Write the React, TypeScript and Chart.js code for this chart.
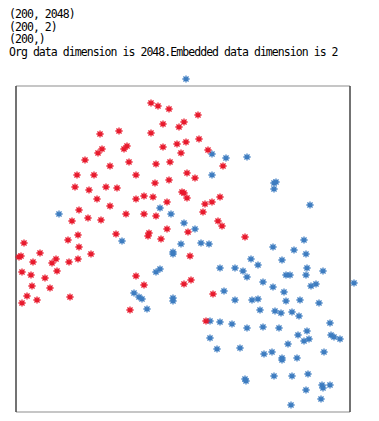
import React, { useEffect, useRef } from "react";
import { Chart, registerables } from "chart.js";

Chart.register(...registerables);

const headerLines: string[] = [
  "(200, 2048)",
  "(200, 2)",
  "(200,)",
  "Org data dimension is 2048.Embedded data dimension is 2",
];

const classARedX: number[] = [
  135, 142, 153, 147, 168, 163, 84, 103, 135, 86, 82, 111, 108, 147, 161, 170, 165, 69, 113, 94,
  140, 154, 61, 78, 120, 171, 139, 153, 59, 73, 90, 101, 166, 168, 182, 183, 192, 207, 179, 81,
  94, 120, 128, 137, 63, 110, 72, 56, 85, 128, 140, 151, 151, 172, 100, 62, 133, 132, 145, 52,
  8, 63, 24, 5, 3, 17, 36, 40, 53, 62, 75, 6, 15, 41, 29, 120, 16, 34, 128, 168,
  11, 21, 54, 6, 114, 171, 189, 196, 204, 187, 202, 206, 229, 174, 175, 197, 190,
];
const classARedY: number[] = [
  309, 306, 303, 288, 290, 285, 278, 281, 279, 263, 259, 266, 263, 265, 268, 270, 259, 252, 250, 246,
  248, 250, 237, 237, 237, 239, 229, 232, 225, 222, 225, 224, 220, 219, 297, 273, 262, 246, 234, 213,
  206, 213, 216, 215, 202, 198, 194, 191, 192, 198, 196, 210, 183, 180, 178, 177, 179, 176, 173, 172,
  169, 165, 159, 156, 155, 150, 149, 153, 150, 153, 158, 140, 137, 141, 134, 136, 126, 124, 127, 128,
  116, 112, 115, 109, 102, 214, 208, 210, 215, 200, 191, 186, 175, 156, 132, 118, 91,
];

const classBBlueX: number[] = [
  170, 196, 210, 231, 196, 258, 260, 258, 43, 144, 155, 168, 106, 165, 157, 157, 140, 144, 118, 123,
  126, 157, 157, 131, 294, 179, 185, 193, 257, 278, 288, 290, 235, 242, 266, 204, 219, 227, 231, 291,
  307, 290, 270, 274, 247, 257, 268, 295, 300, 338, 208, 219, 236, 242, 270, 284, 303, 244, 259, 265,
  276, 283, 194, 204, 216, 231, 247, 263, 314, 282, 291, 288, 293, 315, 318, 324, 194, 272, 201, 224,
  248, 256, 266, 266, 281, 308, 229, 230, 258, 276, 292, 306, 307, 314, 290, 305, 275,
];
const classBBlueY: number[] = [
  333, 258, 254, 255, 237, 229, 230, 223, 198, 204, 198, 189, 171, 168, 160, 158, 140, 143, 119, 115,
  113, 114, 111, 103, 207, 183, 169, 168, 165, 162, 172, 158, 153, 147, 152, 144, 144, 141, 135, 144,
  141, 137, 137, 137, 130, 125, 120, 126, 128, 129, 121, 112, 112, 113, 111, 112, 109, 102, 101, 99,
  100, 96, 91, 90, 88, 84, 85, 84, 89, 77, 81, 71, 73, 77, 75, 73, 74, 68, 63, 64,
  58, 60, 54, 52, 54, 60, 33, 31, 36, 36, 38, 27, 24, 27, 22, 13, 7,
];

// visible frame (axes box) in data units, and the wider drawing range around it
const frameX: number[] = [0, 334];
const frameY: number[] = [0, 326];
const axisX: number[] = [0, 344];
const axisY: number[] = [0, 336];

const RED = "#e8192c";
const BLUE = "#3d7cc0";

const framePlugin = {
  id: "frame",
  beforeDatasetsDraw(chart: any) {
    const { ctx } = chart;
    const xs = chart.scales.x;
    const ys = chart.scales.y;
    const left = xs.getPixelForValue(frameX[0]);
    const right = xs.getPixelForValue(frameX[1]);
    const top = ys.getPixelForValue(frameY[1]);
    const bottom = ys.getPixelForValue(frameY[0]);
    ctx.save();
    ctx.lineWidth = 1.5;
    ctx.strokeStyle = "#b4b4b4";
    ctx.beginPath();
    ctx.moveTo(left, top);
    ctx.lineTo(right, top);
    ctx.moveTo(left, bottom);
    ctx.lineTo(right, bottom);
    ctx.stroke();
    ctx.strokeStyle = "#454545";
    ctx.beginPath();
    ctx.moveTo(left, top);
    ctx.lineTo(left, bottom);
    ctx.moveTo(right, top);
    ctx.lineTo(right, bottom);
    ctx.stroke();
    ctx.restore();
  },
};

function toPoints(xs: number[], ys: number[]) {
  return xs.map((x, i) => ({ x, y: ys[i] }));
}

export default function App() {
  const ref = useRef<HTMLCanvasElement | null>(null);

  useEffect(() => {
    if (!ref.current) return;
    const chart = new Chart(ref.current, {
      type: "scatter",
      data: {
        datasets: [
          {
            label: "class A",
            data: toPoints(classARedX, classARedY),
            pointStyle: "star",
            pointRadius: 3.6,
            borderWidth: 1.3,
            borderColor: RED,
            backgroundColor: RED,
            clip: false,
          } as any,
          {
            label: "class B",
            data: toPoints(classBBlueX, classBBlueY),
            pointStyle: "star",
            pointRadius: 3.6,
            borderWidth: 1.3,
            borderColor: BLUE,
            backgroundColor: BLUE,
            clip: false,
          } as any,
        ],
      },
      options: {
        responsive: false,
        animation: false,
        layout: { padding: { left: 16, top: 76, right: 19, bottom: 9 } },
        plugins: { legend: { display: false }, tooltip: { enabled: false } },
        scales: {
          x: { type: "linear", display: false, min: axisX[0], max: axisX[1] },
          y: { type: "linear", display: false, min: axisY[0], max: axisY[1] },
        },
      },
      plugins: [framePlugin],
    });
    return () => chart.destroy();
  }, []);

  const lineCenters = [12.5, 25, 37.5, 50];

  return (
    <div style={{ position: "absolute", left: 0, top: 0, width: 379, height: 421, background: "#fff" }}>
      {headerLines.map((t, i) => (
        <div
          key={i}
          style={{
            position: "absolute",
            left: 9,
            top: lineCenters[i] - 5.5,
            height: 14,
            lineHeight: "14px",
            fontFamily: "'DejaVu Sans Mono', 'Liberation Mono', monospace",
            fontSize: 11.5,
            letterSpacing: "-0.95px",
            color: "#000",
            whiteSpace: "pre",
          }}
        >
          {t}
        </div>
      ))}
      <canvas ref={ref} width={379} height={421} style={{ position: "absolute", left: 0, top: 0 }} />
    </div>
  );
}
